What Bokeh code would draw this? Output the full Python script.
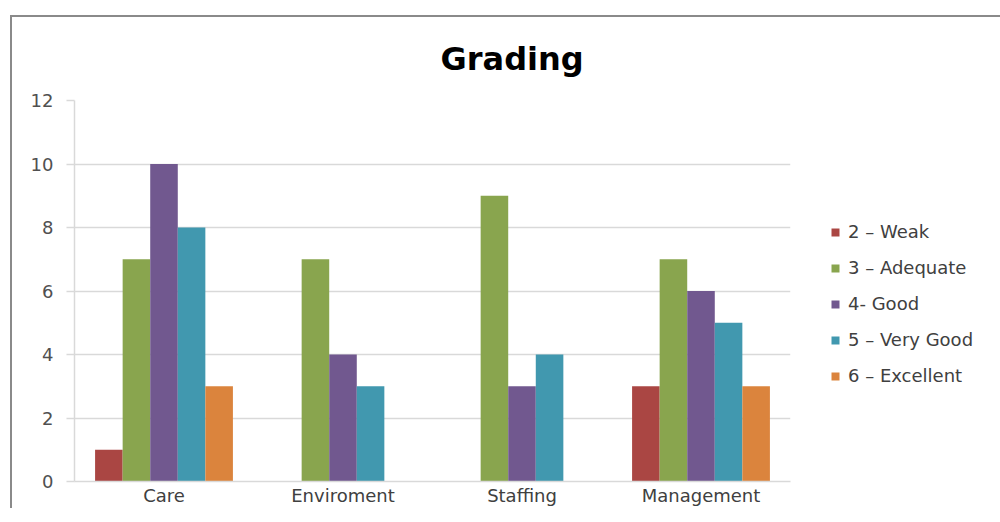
from bokeh.plotting import figure
from bokeh.models import FactorRange, Legend, LegendItem, ColumnDataSource, Range1d
from bokeh.transform import dodge
from bokeh.embed import file_html
from bokeh.resources import INLINE

categories = ["Care", "Enviroment", "Staffing", "Management"]
series_names = ["2 – Weak", "3 – Adequate", "4- Good", "5 – Very Good", "6 – Excellent"]
weak = [1, 0, 0, 3]
adequate = [7, 7, 9, 7]
good = [10, 4, 3, 6]
very_good = [8, 3, 4, 5]
excellent = [3, 0, 0, 3]
colors = ["#AA4643", "#89A54E", "#71588F", "#4198AF", "#DB843D"]
y_ticks = [0, 2, 4, 6, 8, 10, 12]

source = ColumnDataSource(dict(cat=categories, s0=weak, s1=adequate, s2=good, s3=very_good, s4=excellent))

FONT = "DejaVu Sans"

p = figure(x_range=FactorRange(*categories, range_padding=0), y_range=Range1d(0, 12),
           frame_width=716, frame_height=381, output_backend="svg", toolbar_location=None,
           title="Grading", min_border_left=74, min_border_top=100, min_border_bottom=25,
           min_border_right=194)

bar_w = 0.154
items = []
for i, name in enumerate(series_names):
    r = p.vbar(x=dodge("cat", (i - 2) * bar_w, range=p.x_range), top="s%d" % i, width=bar_w,
               source=source, fill_color=colors[i], line_color=None)
    items.append(LegendItem(label=name, renderers=[r]))

p.title.text_font = FONT
p.title.text_font_size = "32px"
p.title.text_font_style = "bold"
p.title.text_color = "#000000"
p.title.align = "left"
p.title.offset = 366
p.title.standoff = 45

p.outline_line_color = None
p.background_fill_color = "white"
p.border_fill_alpha = 0

p.xgrid.grid_line_color = None
p.ygrid.grid_line_color = "#d9d9d9"
p.ygrid.grid_line_width = 1.5
p.yaxis.ticker = y_ticks

p.yaxis.axis_line_color = "#d9d9d9"
p.yaxis.axis_line_width = 1.5
p.yaxis.major_tick_line_color = "#d9d9d9"
p.yaxis.major_tick_line_width = 1.5
p.yaxis.major_tick_out = 8
p.yaxis.major_tick_in = 0
p.yaxis.minor_tick_line_color = None
p.yaxis.major_label_standoff = 13
p.yaxis.major_label_text_font = FONT
p.yaxis.major_label_text_font_size = "18px"
p.yaxis.major_label_text_color = "#505050"

p.xaxis.axis_line_color = "#d9d9d9"
p.xaxis.axis_line_width = 1.5
p.xaxis.major_tick_line_color = None
p.xaxis.major_tick_out = 0
p.xaxis.major_tick_in = 0
p.xaxis.minor_tick_line_color = None
p.xaxis.major_label_standoff = 3
p.xaxis.major_label_text_font = FONT
p.xaxis.major_label_text_font_size = "18px"
p.xaxis.major_label_text_color = "#404040"

legend = Legend(items=items, location=(40, 95), orientation="vertical")
legend.glyph_width = 10
legend.glyph_height = 10
legend.label_height = 20
legend.spacing = 15
legend.padding = 0
legend.margin = 0
legend.label_standoff = 8
legend.border_line_color = None
legend.background_fill_alpha = 0
legend.label_text_font = FONT
legend.label_text_font_size = "18px"
legend.label_text_color = "#404040"
p.add_layout(legend, "right")

p.styles = {
    "background": "linear-gradient(#8a8a8a,#8a8a8a) 10px 15px / 2px 100% no-repeat, "
                  "linear-gradient(#8a8a8a,#8a8a8a) 10px 15px / 100% 2px no-repeat, white"
}

open("out.html", "w").write(file_html(p, INLINE))
